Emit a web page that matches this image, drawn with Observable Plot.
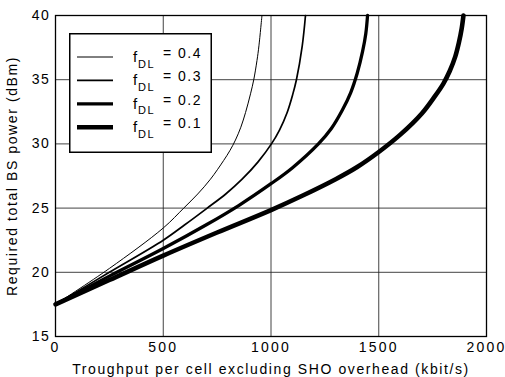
<!DOCTYPE html>
<html><head><meta charset="utf-8">
<script src="https://cdn.jsdelivr.net/npm/d3@7"></script>
<script src="https://cdn.jsdelivr.net/npm/@observablehq/plot@0.6"></script>
<style>
body{margin:0;background:#fff;}
#wrap{position:relative;width:505px;height:377px;overflow:hidden;}
#legend{position:absolute;left:69px;top:33px;}
</style></head><body><div id="wrap"><div id="chart"></div><div id="legend"></div></div>
<script>
// Tick values
const xTicks = [0, 500, 1000, 1500, 2000];
const yTicks = [15, 20, 25, 30, 35, 40];
const xLabel = "Troughput per cell excluding SHO overhead (kbit/s)";
const yLabel = "Required total BS power (dBm)";
// Series labels
const fdlValues = ["0.4", "0.3", "0.2", "0.1"];
// Series values
const x04 = [0, 250, 500, 595, 660, 719, 780, 810, 835, 860, 882, 905, 920, 935, 944, 958];
const y04 = [17.5, 20.3, 23.45, 25.0, 26.1, 27.25, 28.7, 29.5, 30.3, 31.3, 32.45, 33.9, 35.0, 36.5, 37.64, 40.0];
const x03 = [0, 250, 500, 600, 704, 790, 866, 940, 1002, 1040, 1075, 1100, 1118, 1145, 1160];
const y03 = [17.5, 20.0, 22.5, 23.7, 25.0, 26.1, 27.25, 28.6, 30.0, 31.1, 32.45, 33.8, 35.0, 37.64, 40.0];
const x02 = [0, 250, 500, 700, 850, 1000, 1100, 1220, 1280, 1330, 1370, 1400, 1425, 1440, 1448];
const y02 = [17.5, 19.7, 21.85, 23.7, 25.2, 26.9, 28.15, 30.0, 31.2, 32.6, 34.0, 35.5, 37.2, 38.6, 40.0];
const x01 = [0, 250, 500, 750, 1000, 1150, 1300, 1400, 1500, 1600, 1700, 1760, 1800, 1830, 1855, 1872, 1885, 1893];
const y01 = [17.5, 19.4, 21.3, 23.1, 24.85, 26.0, 27.25, 28.2, 29.37, 30.72, 32.37, 33.7, 34.7, 35.7, 36.8, 37.9, 39.0, 40.0];

const seriesX = [x04, x03, x02, x01];
const seriesY = [y04, y03, y02, y01];
const lineWidths = [1, 1.7, 3.3, 4.6];

const tables = seriesX.map((xs, k) => xs.map((x, i) => ({x, y: seriesY[k][i], f: fdlValues[k]})));

const font = "'Liberation Sans', Arial, Helvetica, sans-serif";

const chart = Plot.plot({
  width: 505, height: 377,
  marginTop: 15, marginRight: 19, marginBottom: 41, marginLeft: 55,
  style: {fontFamily: font, fontSize: "14px", color: "#000", background: "#fff", letterSpacing: "1.6px"},
  x: {domain: [0, 2000]},
  y: {domain: [15, 40]},
  marks: [
    Plot.gridX(xTicks, {stroke: "#222", strokeOpacity: 0.85, strokeWidth: 1}),
    Plot.gridY(yTicks, {stroke: "#222", strokeOpacity: 0.85, strokeWidth: 1}),
    ...tables.map((t, k) => Plot.line(t, {x: "x", y: "y", curve: "catmull-rom", stroke: "#000", strokeWidth: lineWidths[k]})),
    Plot.frame({stroke: "#000", strokeWidth: 1.3}),
    Plot.axisX({ticks: xTicks, tickSize: 0, tickPadding: 6, tickFormat: d => String(d), label: xLabel, labelAnchor: "center", labelArrow: "none", labelOffset: 37, fontSize: 14}),
    Plot.axisY({ticks: yTicks, tickSize: 0, tickPadding: 5, tickFormat: d => String(d), label: yLabel, labelAnchor: "center", labelArrow: "none", labelOffset: 48, fontSize: 14})
  ]
});
d3.select(chart).selectAll('[aria-label="x-axis tick label"] text').style("letter-spacing", "2.2px");
d3.select(chart).selectAll('[aria-label="y-axis tick label"] text').style("letter-spacing", "1.6px");
document.getElementById("chart").appendChild(chart);

// Legend
const ns = "http://www.w3.org/2000/svg";
const lg = document.createElementNS(ns, "svg");
lg.setAttribute("width", 144); lg.setAttribute("height", 121);
lg.style.fontFamily = font; lg.style.letterSpacing = "1.5px";
const rect = document.createElementNS(ns, "rect");
rect.setAttribute("x", 0.75); rect.setAttribute("y", 0.75); rect.setAttribute("width", 141.5); rect.setAttribute("height", 118.5);
rect.setAttribute("fill", "#fff"); rect.setAttribute("stroke", "#000"); rect.setAttribute("stroke-width", 1.5);
lg.appendChild(rect);
fdlValues.forEach((v, i) => {
  const cy = 24 + i * 23.4;
  const ln = document.createElementNS(ns, "line");
  ln.setAttribute("x1", 8); ln.setAttribute("x2", 44); ln.setAttribute("y1", cy); ln.setAttribute("y2", cy);
  ln.setAttribute("stroke", "#000"); ln.setAttribute("stroke-width", lineWidths[i]);
  lg.appendChild(ln);
  const t1 = document.createElementNS(ns, "text");
  t1.setAttribute("x", 64); t1.setAttribute("y", cy + 5); t1.setAttribute("font-size", 15); t1.textContent = "f";
  lg.appendChild(t1);
  const t2 = document.createElementNS(ns, "text");
  t2.setAttribute("x", 69); t2.setAttribute("y", cy + 10.5); t2.setAttribute("font-size", 11); t2.textContent = "DL";
  lg.appendChild(t2);
  const t3 = document.createElementNS(ns, "text");
  t3.setAttribute("x", 94); t3.setAttribute("y", cy + 1); t3.setAttribute("font-size", 14); t3.textContent = "= " + v;
  lg.appendChild(t3);
});
document.getElementById("legend").appendChild(lg);
</script></body></html>
